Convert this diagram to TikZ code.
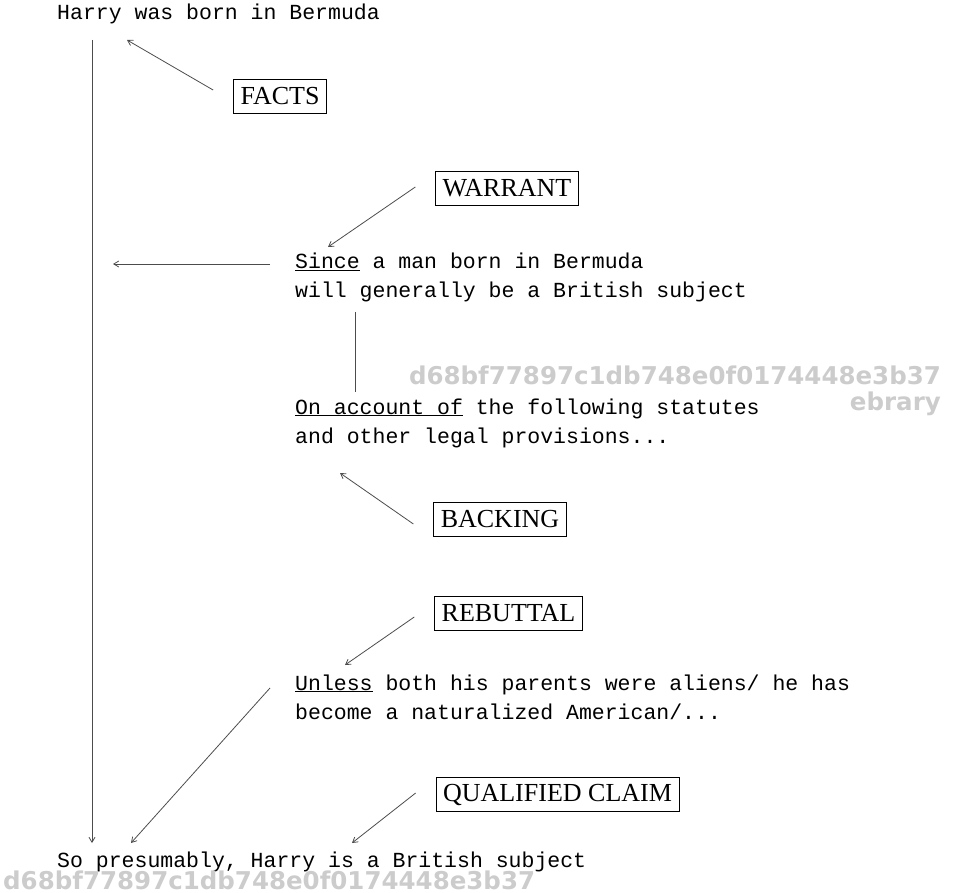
\documentclass[tikz,border=0pt]{standalone}
\usepackage{fontspec}
\setmonofont{Liberation Mono}
\newfontfamily\boxfont{Liberation Serif}
\newfontfamily\wmfont{DejaVu Sans}
\usetikzlibrary{arrows.meta}
\tikzset{
  mono/.style={font=\ttfamily\fontsize{21.5}{26}\selectfont, inner sep=0pt, anchor=base west},
  label box/.style={draw, line width=0.8pt, font=\boxfont\fontsize{26}{30}\selectfont,
    inner xsep=7pt, inner ysep=0pt, minimum height=34pt},
  conn/.style={line width=0.8pt, draw=black!70},
  arr/.style={conn, -{Straight Barb[length=5pt,width=6pt]}},
  wm/.style={font=\wmfont\bfseries\fontsize{24.5}{28}\selectfont, text=black!20, inner sep=0pt}
}
\begin{document}
\begin{tikzpicture}[x=1pt,y=-1pt]
\useasboundingbox (0,0) rectangle (953,893);
% texts
\node[mono] (harry) at (57,20) {Harry was born in Bermuda};
\node[mono] (since1) at (295,269) {\underline{Since} a man born in Bermuda};
\node[mono] (since2) at (295,298) {will generally be a British subject};
\node[mono] (acc1) at (295,414) {\underline{On account of} the following statutes};
\node[mono] (acc2) at (295,443) {and other legal provisions...};
\node[mono] (unl1) at (295,690) {\underline{Unless} both his parents were aliens/ he has};
\node[mono] (unl2) at (295,719) {become a naturalized American/...};
\node[mono] (claim) at (57,867) {So presumably, Harry is a British subject};
% label boxes
\node[label box] (facts) at (280,96.5) {FACTS};
\node[label box] (warrant) at (507,188.5) {WARRANT};
\node[label box] (backing) at (500,519.5) {BACKING};
\node[label box] (rebuttal) at (508.5,613.5) {REBUTTAL};
\node[label box] (qual) at (557.5,794.5) {QUALIFIED CLAIM};
% watermarks
\node[wm, anchor=base east] (wm1) at (941,384) {d68bf77897c1db748e0f0174448e3b37};
\node[wm, anchor=base east] (wm2) at (941,410) {ebrary};
\node[wm, anchor=base west] (wm3) at (3,889) {d68bf77897c1db748e0f0174448e3b37};
% coordinates
\coordinate (mainTop) at (92,40);
\coordinate (mainBot) at (92,843);
\coordinate (factsEnd) at (127,40);
\coordinate (warrEnd) at (328,247);
\coordinate (sinceStart) at (270,264);
\coordinate (sinceEnd) at (113,264);
\coordinate (linkTop) at (355,312);
\coordinate (linkBot) at (355,392);
\coordinate (backEnd) at (340,473);
\coordinate (rebEnd) at (345,665);
\coordinate (unlStart) at (270,688);
\coordinate (unlEnd) at (131,843);
\coordinate (qualEnd) at (352,843);
% connectors
\draw[arr] (mainTop) -- (mainBot);
\draw[arr] ([xshift=-20pt,yshift=6.5pt]facts.west) -- (factsEnd);
\draw[arr] ([xshift=-20pt,yshift=1.5pt]warrant.west) -- (warrEnd);
\draw[arr] (sinceStart) -- (sinceEnd);
\draw[conn] (linkTop) -- (linkBot);
\draw[arr] ([xshift=-20pt,yshift=-4.5pt]backing.west) -- (backEnd);
\draw[arr] ([xshift=-20pt,yshift=-3.5pt]rebuttal.west) -- (rebEnd);
\draw[arr] (unlStart) -- (unlEnd);
\draw[arr] ([xshift=-20pt,yshift=1.5pt]qual.west) -- (qualEnd);
\end{tikzpicture}
\end{document}
